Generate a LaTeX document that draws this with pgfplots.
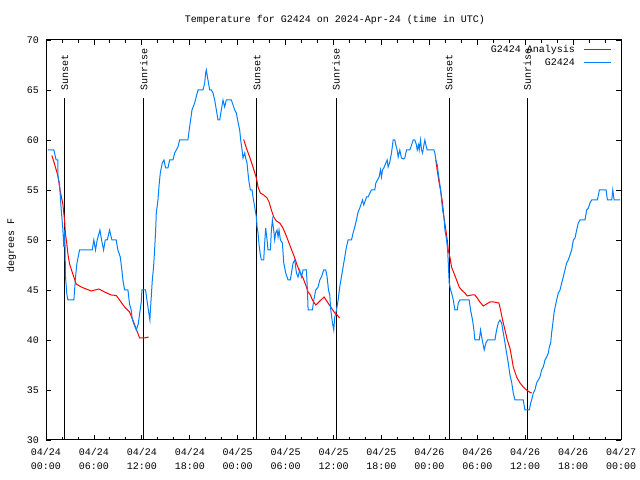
\documentclass[border=0pt]{standalone}
\usepackage{pgfplots}
\pgfplotsset{compat=1.18}
\usepackage{fontspec}
\setmainfont{Liberation Mono}
\definecolor{gblue}{RGB}{0,128,255}
\definecolor{gred}{RGB}{255,0,0}
\newcommand{\gfont}{\fontsize{10bp}{14bp}\selectfont}
\begin{document}
\begin{tikzpicture}[x=1bp,y=1bp]
\path[use as bounding box] (0,0) rectangle (640,480);
\node[font=\gfont] at (335,460) {Temperature for G2424 on 2024-Apr-24 (time in UTC)};
\begin{axis}[
  at={(46bp,40bp)}, anchor=south west, scale only axis,
  width=575bp, height=400bp,
  xmin=0, xmax=72, ymin=30, ymax=70,
  xtick={0,6,...,72}, minor x tick num=2,
  xticklabels={{04/24\\00:00},{04/24\\06:00},{04/24\\12:00},{04/24\\18:00},{04/25\\00:00},{04/25\\06:00},{04/25\\12:00},{04/25\\18:00},{04/26\\00:00},{04/26\\06:00},{04/26\\12:00},{04/26\\18:00},{04/27\\00:00}},
  ytick={30,35,...,70},
  tick align=inside, major tick length=5bp, minor tick length=3bp,
  tick style={black, line width=0.8bp},
  axis line style={line width=1bp},
  /pgf/number format/assume math mode=true,
  tick label style={font=\gfont},
  x tick label style={align=center, yshift=-5bp},
  y tick label style={xshift=-3.5bp},
  ylabel={degrees F},
  ylabel style={font=\gfont, at={(axis description cs:-0.06,0.485)}, anchor=center},
  legend style={at={(1,1)}, anchor=north east, xshift=-8bp, yshift=-2bp, draw=none, fill=none, font=\gfont, row sep=1bp, inner sep=1bp},
  legend cell align=right, legend plot pos=right,
  legend image code/.code={\path (0bp,0bp); \draw[#1] (7bp,0bp) -- (34bp,0bp);},
]
% Sunset / sunrise lines
\addplot[black, line width=1bp, forget plot] coordinates {(2.36,30) (2.36,64.15)};
\addplot[black, line width=1bp, forget plot] coordinates {(12.26,30) (12.26,64.15)};
\addplot[black, line width=1bp, forget plot] coordinates {(26.42,30) (26.42,64.15)};
\addplot[black, line width=1bp, forget plot] coordinates {(36.32,30) (36.32,64.15)};
\addplot[black, line width=1bp, forget plot] coordinates {(50.48,30) (50.48,64.15)};
\addplot[black, line width=1bp, forget plot] coordinates {(60.26,30) (60.26,64.15)};
\node[rotate=90, anchor=west, inner sep=0pt, font=\gfont, xshift=1bp] at (axis cs:2.36,64.8) {Sunset};
\node[rotate=90, anchor=west, inner sep=0pt, font=\gfont, xshift=1bp] at (axis cs:12.26,64.8) {Sunrise};
\node[rotate=90, anchor=west, inner sep=0pt, font=\gfont, xshift=1bp] at (axis cs:26.42,64.8) {Sunset};
\node[rotate=90, anchor=west, inner sep=0pt, font=\gfont, xshift=1bp] at (axis cs:36.32,64.8) {Sunrise};
\node[rotate=90, anchor=west, inner sep=0pt, font=\gfont, xshift=1bp] at (axis cs:50.48,64.8) {Sunset};
\node[rotate=90, anchor=west, inner sep=0pt, font=\gfont, xshift=1bp] at (axis cs:60.26,64.8) {Sunrise};
% Analysis (red)
\addplot[gred, line width=1bp, mark=none] coordinates {
(0.73,58.45) (1.07,57.6) (1.48,56.45) (1.77,54.95) (2.11,53.6) (2.32,52) (2.44,50.6) (2.61,49.6) (2.74,48.6) (2.95,47.6) (3.36,46.6) (3.78,45.6) (4.41,45.3) (5.03,45.1) (5.66,44.9) (6.62,45.1) (7.33,44.8) (8.17,44.5) (8.79,44.45) (9.21,44) (9.84,43.3) (10.46,42.8) (10.88,42) (11.30,41.1) (11.72,40.2) (12.34,40.2) (12.84,40.3)
};
\addlegendentry{G2424 Analysis}
\addplot[gred, line width=1bp, mark=none, forget plot] coordinates {
(24.75,60.05) (25.09,59.2) (25.50,58.3) (25.92,57.3) (26.34,56.2) (26.55,55.3) (26.84,54.7) (27.26,54.5) (27.68,54.2) (27.93,53.8) (28.22,53) (28.51,52.3) (28.85,51.9) (29.27,51.7) (29.60,51.3) (29.89,50.8) (30.19,50.2) (30.52,49.5) (30.86,48.8) (31.15,48.2) (31.44,47.5) (31.77,46.8) (32.19,46.2) (32.61,45.3) (32.82,44.8) (33.11,44.5) (33.36,44) (33.78,43.5) (34.82,44.3) (35.32,43.7) (35.74,43.2) (36.16,42.7) (36.45,42.5) (36.78,42.2)
};
\addplot[gred, line width=1bp, mark=none, forget plot] coordinates {
(48.81,58) (48.98,57) (49.23,55.7) (49.40,55) (49.65,53.7) (49.82,52.3) (50.07,51) (50.24,50) (50.37,49) (50.57,48.3) (50.78,47.3) (51.07,46.7) (51.41,46) (51.74,45.3) (52.03,45) (52.45,44.7) (52.74,44.4) (53.29,44.5) (53.70,44.5) (54.00,44.2) (54.33,43.8) (54.75,43.4) (55.17,43.6) (55.58,43.8) (56.08,43.8) (56.71,43.7) (56.92,43) (57.17,42) (57.47,41) (57.76,40) (58.09,39.2) (58.30,38.3) (58.51,37.3) (58.72,36.8) (58.93,36.3) (59.14,36) (59.35,35.7) (59.76,35.3) (60.18,35) (60.52,34.8) (60.81,34.7)
};
% Observations (blue)
\addplot[gblue, line width=1bp, mark=none] coordinates {
(0.23,59) (0.98,59) (1.07,58.7) (1.27,58) (1.48,58) (1.50,56.4) (1.69,55.6) (1.90,53.1) (2.11,51.1) (2.23,49.3) (2.35,51) (2.44,46.3) (2.61,44.6) (2.74,44) (3.49,44) (3.70,46.3) (3.86,47.6) (4.03,48.3) (4.20,49) (5.79,49) (5.99,50) (6.20,49) (6.41,50) (6.75,51) (6.96,50) (7.21,49) (7.42,50) (7.67,50) (7.96,51) (8.25,50) (8.79,50) (9.00,49) (9.30,48.3) (9.50,47) (9.63,46) (9.84,45) (10.26,45) (10.46,43.6) (10.67,43) (10.80,42.1) (11.01,41.6) (11.30,41) (11.55,41.6) (11.72,42.6) (11.93,43.8) (12.01,45) (12.47,45) (12.64,44) (12.89,42.6) (13.01,42) (13.05,42.7) (13.18,44.3) (13.31,46) (13.47,47.3) (13.60,49) (13.73,51) (13.81,52.7) (14.02,54) (14.14,55.3) (14.31,56.7) (14.56,57.7) (14.77,58) (14.98,57.2) (15.27,57.2) (15.48,58) (15.90,58) (16.11,58.7) (16.31,59) (16.52,59.3) (16.73,60) (17.77,60) (17.90,60.8) (18.07,61.8) (18.28,63) (18.61,63.7) (19.03,65) (19.66,65) (19.87,65.7) (19.99,66.7) (20.07,67) (20.28,66) (20.49,65) (20.70,65) (20.91,64.7) (21.12,64) (21.33,63) (21.54,62) (21.75,62) (21.95,63) (22.16,64) (22.37,63.3) (22.58,64) (23.21,64) (23.42,63.5) (23.63,63) (23.83,62.7) (24.04,61.8) (24.25,61) (24.38,60) (24.55,59) (24.67,58.2) (24.88,58.7) (25.00,58.2) (25.17,57.7) (25.29,56.7) (25.42,55.8) (25.59,55) (25.80,55) (25.92,54.3) (26.13,53.3) (26.34,52.3) (26.43,51.3) (26.55,50.7) (26.68,49.5) (26.84,48.5) (26.97,48) (27.26,48) (27.38,49.7) (27.51,51.2) (27.68,50) (27.80,49) (28.10,49) (28.22,51) (28.35,52) (28.51,51) (28.64,50) (28.76,50.7) (28.93,51) (29.06,50.3) (29.18,51) (29.35,50) (29.60,49.7) (29.77,47.7) (30.02,46.7) (30.31,46) (30.60,46) (30.73,46.7) (30.94,47.7) (31.15,48) (31.36,46.7) (31.56,46.3) (31.77,47) (31.98,46.3) (32.19,47) (32.61,47) (32.73,45) (32.82,43) (33.36,43) (33.53,44) (33.78,45) (34.07,45.3) (34.28,46) (34.49,46.3) (34.78,47) (35.03,47) (35.20,46.3) (35.37,45) (35.53,44.5) (35.66,43) (35.87,41.7) (36.03,41) (36.16,42.3) (36.37,43) (36.58,44) (36.78,45.3) (36.99,46.3) (37.20,47.3) (37.41,48.3) (37.62,49.3) (37.83,50) (38.25,50) (38.45,50.7) (38.66,51.3) (38.87,52) (39.08,52.8) (39.29,53.2) (39.50,53.7) (39.63,54) (39.79,53.5) (39.92,53.8) (40.13,54.3) (40.34,54.3) (40.55,54.7) (40.75,55) (41.17,55) (41.30,55.7) (41.50,56) (41.71,56.3) (41.88,57) (42.01,56.3) (42.13,57) (42.30,57.2) (42.55,57.7) (42.72,58) (42.84,57.3) (43.05,57.8) (43.26,58.7) (43.39,59.5) (43.47,60) (43.68,60) (43.80,59.5) (43.97,59) (44.10,58.3) (44.30,59) (44.51,58.2) (44.72,58.1) (44.93,58.2) (45.14,59) (45.56,59) (45.77,59.5) (45.98,60) (46.18,60) (46.39,59.5) (46.48,59) (46.65,59.5) (46.73,59) (46.90,60) (47.02,59) (47.15,58.7) (47.32,59.5) (47.44,60) (47.57,59.5) (47.73,59) (48.57,59) (48.69,58.7) (48.82,58) (48.99,57.5) (49.11,56.7) (49.24,56) (49.41,55) (49.53,54) (49.66,53) (49.83,52.3) (49.95,51) (50.16,50) (50.29,49) (50.37,47.7) (50.49,45.7) (50.66,45) (50.79,44.7) (51.00,44) (51.20,43) (51.50,43) (51.62,43.7) (51.82,44) (52.99,44) (53.16,43) (53.41,42) (53.58,41) (53.70,40) (54.25,40) (54.41,41) (54.62,40) (54.87,39) (55.08,39.7) (55.29,40) (56.21,40) (56.42,41) (56.63,41.7) (56.84,42) (57.05,41.7) (57.26,40.7) (57.47,39.7) (57.67,38.7) (57.88,37.7) (58.09,36.5) (58.30,35.8) (58.51,34.7) (58.72,34) (59.76,34) (59.97,33) (60.52,33) (60.69,33.7) (60.81,34) (61.02,34.7) (61.22,35) (61.43,35.7) (61.64,36) (61.85,36.3) (62.06,37) (62.27,37.3) (62.48,38) (62.69,38.3) (62.90,38.7) (63.02,39.3) (63.19,39.7) (63.31,40.7) (63.44,41.5) (63.61,42.7) (63.73,43.2) (63.94,44) (64.15,44.7) (64.36,45) (64.57,45.7) (64.77,46.3) (64.98,47) (65.19,47.7) (65.40,48) (65.61,48.5) (65.82,49) (66.03,50) (66.24,50.2) (66.45,51) (66.65,51.7) (66.86,52) (67.49,52) (67.70,53) (67.91,53.2) (68.12,53.7) (68.33,54) (69.04,54) (69.17,54.5) (69.29,55) (70.13,55) (70.30,54) (70.84,54) (70.97,55) (71.14,54) (71.89,54)
};
\addlegendentry{G2424}
\end{axis}
\end{tikzpicture}
\end{document}
